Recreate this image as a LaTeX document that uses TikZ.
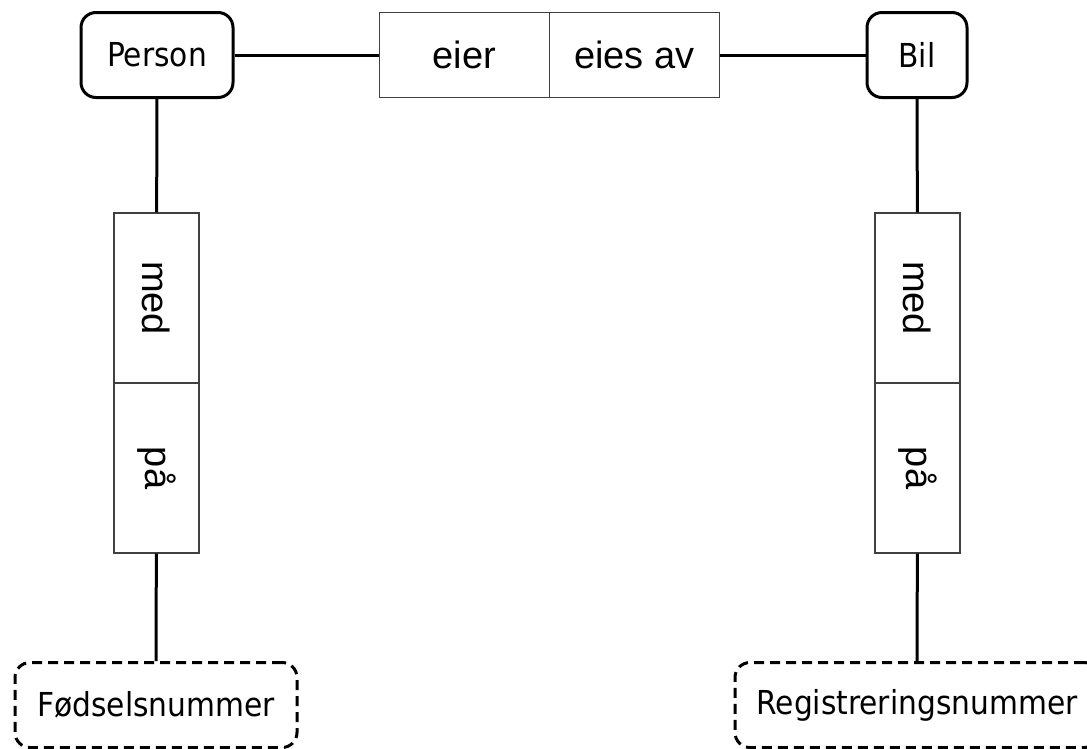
\documentclass[tikz,border=0pt]{standalone}
\usepackage{fontspec}
\setmainfont{DejaVu Sans Condensed}
\newfontfamily\rollefont{Liberation Sans}
\usepackage{tikz}
\usepackage{xcolor}
\tikzstyle{objekt} = [rectangle, draw, rounded corners=15pt, line width=3pt, minimum height=85pt, font=\fontsize{33}{39}\selectfont]
\tikzstyle{attributt} = [objekt, dash pattern=on 10pt off 6pt]
\tikzstyle{rolle} = [rectangle, draw=black!75, line width=1.2pt, minimum height=85pt, minimum width=170pt, font=\rollefont\fontsize{38}{45}\selectfont]
\tikzstyle{rolleV} = [rolle, rotate=-90]

\begin{document}
\begin{tikzpicture}[x=1pt,y=-1pt,line width=3pt]
  \useasboundingbox (0,0) rectangle (1087,748);
  \clip (0,0) rectangle (1087,748);
  \node[objekt, minimum width=152pt] (Person) at (157,55) {Person};
  \node[rolle] (eier) at (464.5,55) {eier};
  \node[rolle] (eies_av) at (634.5,55) {eies av};
  \node[objekt, minimum width=100pt] (Bil) at (917,55) {Bil};
  \node[rolleV] (med_P) at (156.5,298) {med};
  \node[rolleV] (paa_P) at (156.5,468) {på};
  \node[rolleV] (med_B) at (917.5,298) {med};
  \node[rolleV] (paa_B) at (917.5,468) {på};
  \node[attributt, minimum width=282pt] (Foedselsnr) at (156,705) {Fødselsnummer};
  \node[attributt, minimum width=364pt] (Regnr) at (917,705) {Registreringsnummer};

  \path (Person) edge (eier);
  \path (eies_av) edge (Bil);
  \path (Person) edge (med_P);
  \path (paa_P) edge (Foedselsnr);
  \path (Bil) edge (med_B);
  \path (paa_B) edge (Regnr);
\end{tikzpicture}
\end{document}
